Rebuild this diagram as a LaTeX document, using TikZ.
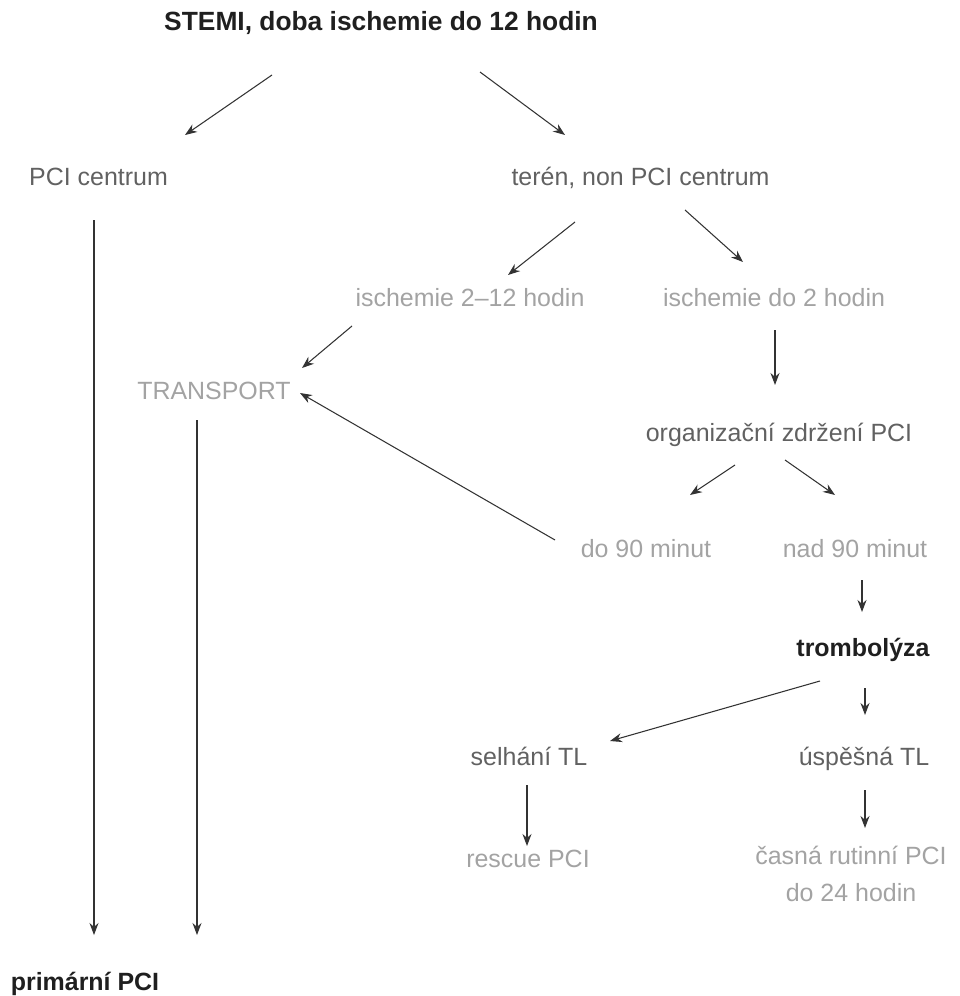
\documentclass[tikz,border=0pt]{standalone}
\usepackage{fontspec}
\setmainfont{Liberation Sans}
\usetikzlibrary{arrows.meta}
\definecolor{inkdark}{gray}{0.12}
\definecolor{inkmid}{gray}{0.38}
\definecolor{inklight}{gray}{0.64}
\tikzset{
	lbl/.style={anchor=base, inner sep=0pt, font=\fontsize{14.2}{21}\selectfont},
	lblbold/.style={lbl, font=\fontsize{14.2}{21}\selectfont\bfseries, text=inkdark},
	arr/.style={line width=0.6pt, color=black!80, -{Stealth[length=2.4mm, width=1.8mm]}}
}

\begin{document}
\begin{tikzpicture}
		%%%%% START %%%%%
		
		\useasboundingbox (0, 0) rectangle (19.2, -19.92);
		
		\node[lblbold, font=\fontsize{15}{21}\selectfont\bfseries] (stemi) at (7.62, -0.62) {STEMI, doba ischemie do 12 hodin};
		
		\node[lbl, text=inkmid] (pcic) at (1.97, -3.70) {PCI centrum};
		\node[lbl, text=inkmid] (teren) at (12.81, -3.70) {terén, non PCI centrum};
		
		\node[lbl, text=inklight] (isch212) at (9.40, -6.12) {ischemie 2–12 hodin};
		\node[lbl, text=inklight] (isch2) at (15.48, -6.12) {ischemie do 2 hodin};
		
		\node[lbl, text=inklight] (transport) at (4.28, -7.98) {TRANSPORT};
		\node[lbl, text=inkmid] (zdrzeni) at (15.58, -8.82) {organizační zdržení PCI};
		
		\node[lbl, text=inklight] (do90) at (12.92, -11.14) {do 90 minut};
		\node[lbl, text=inklight] (nad90) at (17.10, -11.14) {nad 90 minut};
		
		\node[lblbold] (tromb) at (17.26, -13.12) {trombolýza};
		
		\node[lbl, text=inkmid] (selhani) at (10.58, -15.30) {selhání TL};
		\node[lbl, text=inkmid] (uspesna) at (17.28, -15.30) {úspěšná TL};
		
		\node[lbl, text=inklight] (rescue) at (10.56, -17.34) {rescue PCI};
		% base of a two-line node is its last line
		\node[lbl, text=inklight, align=center] (casna) at (17.02, -18.02) {časná rutinní PCI\\do 24 hodin};
		
		\node[lblbold] (primarni) at (1.70, -19.80) {primární PCI};
		
		% arrow ends
		\coordinate (stemi-l) at (5.44, -1.50);
		\coordinate (pcic-in) at (3.70, -2.70);
		\coordinate (stemi-r) at (9.60, -1.44);
		\coordinate (teren-in) at (11.30, -2.70);
		\coordinate (teren-l) at (11.50, -4.44);
		\coordinate (isch212-in) at (10.16, -5.50);
		\coordinate (teren-r) at (13.70, -4.20);
		\coordinate (isch2-in) at (14.86, -5.24);
		\coordinate (isch212-out) at (7.04, -6.52);
		\coordinate (transport-in) at (6.04, -7.36);
		\coordinate (isch2-out) at (15.50, -6.60);
		\coordinate (zdrzeni-in) at (15.50, -7.70);
		\coordinate (do90-out) at (11.10, -10.80);
		\coordinate (transport-in2) at (6.00, -7.86);
		\coordinate (zdrzeni-l) at (14.70, -9.30);
		\coordinate (do90-in) at (13.80, -9.90);
		\coordinate (zdrzeni-r) at (15.70, -9.20);
		\coordinate (nad90-in) at (16.70, -9.90);
		\coordinate (nad90-out) at (17.24, -11.60);
		\coordinate (tromb-in) at (17.24, -12.24);
		\coordinate (tromb-l) at (16.40, -13.62);
		\coordinate (selhani-in) at (12.20, -14.82);
		\coordinate (tromb-out) at (17.30, -13.76);
		\coordinate (uspesna-in) at (17.30, -14.30);
		\coordinate (selhani-out) at (10.54, -15.70);
		\coordinate (rescue-in) at (10.54, -16.92);
		\coordinate (uspesna-out) at (17.30, -15.80);
		\coordinate (casna-in) at (17.30, -16.56);
		\coordinate (pcic-out) at (1.88, -4.40);
		\coordinate (primarni-in) at (1.88, -18.70);
		\coordinate (transport-out) at (3.94, -8.40);
		\coordinate (primarni-in2) at (3.94, -18.70);
		
		\draw[arr] (stemi-l) -- (pcic-in);
		\draw[arr] (stemi-r) -- (teren-in);
		\draw[arr] (teren-l) -- (isch212-in);
		\draw[arr] (teren-r) -- (isch2-in);
		\draw[arr] (isch212-out) -- (transport-in);
		\draw[arr] (isch2-out) -- (zdrzeni-in);
		\draw[arr] (do90-out) -- (transport-in2);
		\draw[arr] (zdrzeni-l) -- (do90-in);
		\draw[arr] (zdrzeni-r) -- (nad90-in);
		\draw[arr] (nad90-out) -- (tromb-in);
		\draw[arr] (tromb-l) -- (selhani-in);
		\draw[arr] (tromb-out) -- (uspesna-in);
		\draw[arr] (selhani-out) -- (rescue-in);
		\draw[arr] (uspesna-out) -- (casna-in);
		\draw[arr] (pcic-out) -- (primarni-in);
		\draw[arr] (transport-out) -- (primarni-in2);
		
		%%%%% END %%%%%
	\end{tikzpicture}
\end{document}
